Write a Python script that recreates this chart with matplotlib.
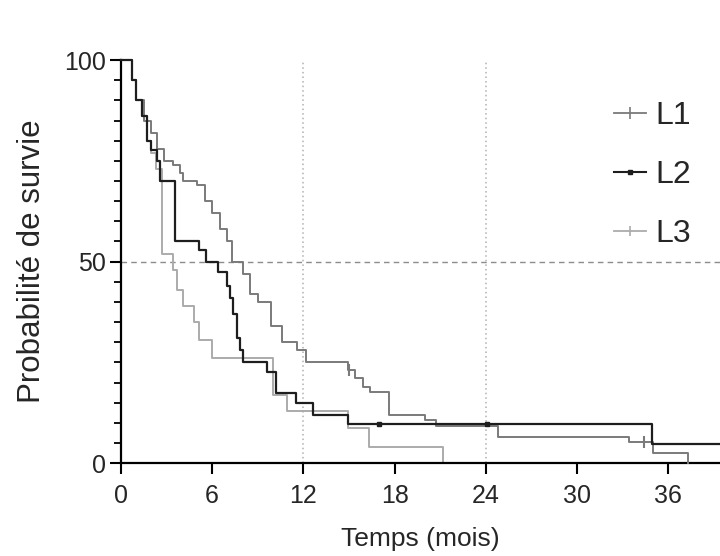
import matplotlib
matplotlib.use("Agg")
import matplotlib.pyplot as plt
from matplotlib.lines import Line2D
from matplotlib.ticker import MultipleLocator

plt.rcParams["font.family"] = ["Liberation Sans", "DejaVu Sans"]

## Kaplan-Meier steps: month at which each level starts, survival (%)
l1_t = [0, 0.7, 1.0, 1.5, 2.0, 2.4, 2.8, 3.4, 3.9, 4.1, 5.0, 5.5, 6.0, 6.5, 7.0, 7.3,
        8.0, 8.5, 9.0, 9.9, 10.6, 11.6, 12.2, 14.9, 15.4, 15.9, 16.4, 17.6, 20.0,
        20.7, 24.8, 33.4, 35.0, 37.3]
l1_s = [100, 95, 90, 85, 82, 78, 75, 74, 72, 70, 69, 65, 62, 58, 55, 50,
        47, 42, 40, 34, 30, 28, 25, 23, 21, 19, 17.7, 12, 10.7,
        9.2, 6.5, 5.2, 2.6, 0]

l2_t = [0, 0.7, 1.0, 1.4, 1.7, 2.0, 2.4, 2.6, 3.55, 5.1, 5.6, 6.4, 7.0, 7.2, 7.4,
        7.6, 7.8, 8.0, 9.6, 10.2, 11.5, 12.6, 14.9, 34.9, 40]
l2_s = [100, 95, 90, 86, 80, 77.7, 75, 70, 55, 53, 50, 47.5, 44, 41, 37,
        31, 28, 25, 22.6, 17.4, 15, 12, 9.7, 4.7, 4.7]

l3_t = [0, 0.7, 1.0, 1.4, 1.7, 2.0, 2.3, 2.7, 3.4, 3.7, 4.1, 4.8, 5.1, 6.0, 10.0,
        10.9, 14.9, 16.3, 21.2]
l3_s = [100, 95, 90, 86, 80, 77, 73, 52, 48, 43, 39, 35, 30.5, 26, 17,
        13, 8.7, 4, 0]

## censored observations
l1_cens_t = [15.0, 34.4]
l1_cens_s = [23, 5.2]
l2_cens_t = [17.0, 24.1]
l2_cens_s = [9.7, 9.7]

labels = ["L1", "L2", "L3"]
colours = ["#7a7a7a", "#1e1e1e", "#ababab"]
text_col = "#262626"

fig = plt.figure(figsize=(7.2, 5.56), dpi=100)
ax = fig.add_axes([0.168, 0.167, 0.832, 0.725])

## reference lines
ax.axhline(50, color="#8c8c8c", lw=1.0, ls=(0, (4, 3)), zorder=1)
for xv in [12, 24]:
    ax.axvline(xv, color="#b0b0b0", lw=1.1, ls=(0, (1, 2)), zorder=1)

ax.step(l3_t, l3_s, where="post", color=colours[2], lw=1.4, clip_on=False, zorder=2)
ax.step(l1_t, l1_s, where="post", color=colours[0], lw=1.4, clip_on=False, zorder=3)
ax.step(l2_t, l2_s, where="post", color=colours[1], lw=1.6, clip_on=False, zorder=4)

ax.plot(l1_cens_t, l1_cens_s, ls="none", marker="|", ms=8, mew=1.5, color=colours[0], zorder=5)
ax.plot(l2_cens_t, l2_cens_s, ls="none", marker="s", ms=3.5, color=colours[1], zorder=5)

ax.set_xlim(0, 39.4)
ax.set_ylim(0, 100)

for side in ["top", "right"]:
    ax.spines[side].set_visible(False)
for side in ["left", "bottom"]:
    ax.spines[side].set_linewidth(1.6)

ax.set_xticks([0, 6, 12, 18, 24, 30, 36])
ax.set_yticks([0, 50, 100])
ax.yaxis.set_minor_locator(MultipleLocator(5))
ax.tick_params(axis="both", which="major", length=8, width=1.5, labelsize=18,
               labelcolor=text_col)
ax.tick_params(axis="x", which="major", pad=7)
ax.tick_params(axis="y", which="major", pad=3)
ax.tick_params(axis="y", which="minor", length=5, width=1.3)

ax.set_xlabel("Temps (mois)", fontsize=19, color=text_col, labelpad=14)
ax.set_ylabel("Probabilité de survie", fontsize=22.5, color=text_col, labelpad=12)

handles = [
    Line2D([], [], color=colours[0], lw=1.3, marker="|", ms=9, mew=1.2),
    Line2D([], [], color=colours[1], lw=1.5, marker="s", ms=3),
    Line2D([], [], color=colours[2], lw=1.3, marker="|", ms=7, mew=1.2),
]
leg = ax.legend(handles, labels, loc="upper left", bbox_to_anchor=(0.835, 0.841),
                bbox_transform=fig.transFigure, frameon=False,
                prop={"size": 23}, handlelength=1.0,
                handletextpad=0.3, labelspacing=0.9, borderaxespad=0)
for t in leg.get_texts():
    t.set_color(text_col)

fig.savefig("out.png", dpi=100)
